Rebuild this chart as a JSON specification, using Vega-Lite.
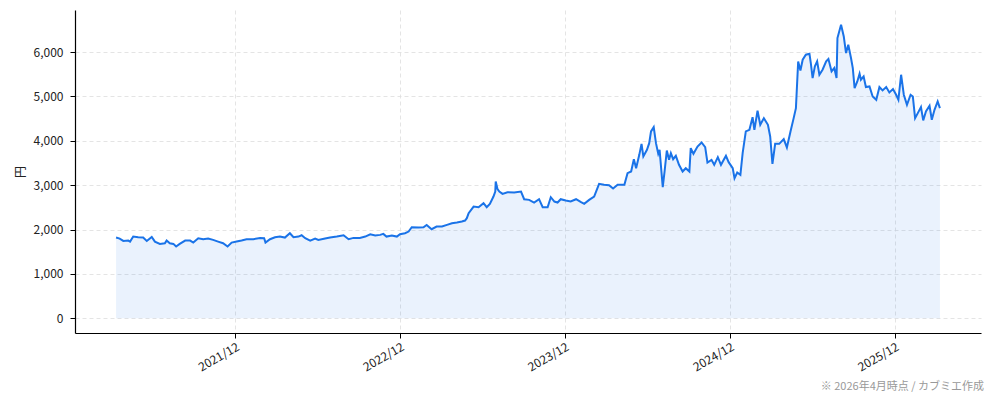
{
  "$schema": "https://vega.github.io/schema/vega-lite/v6.json",
  "width": 906,
  "height": 323,
  "autosize": {"type": "none"},
  "padding": {"left": 75, "top": 10, "right": 13, "bottom": 68},
  "background": "white",
  "config": {
    "view": {"stroke": null},
    "font": "Noto Sans CJK JP",
    "axis": {
      "domainColor": "#000000",
      "domainWidth": 1.2,
      "tickColor": "#000000",
      "tickSize": 5,
      "labelColor": "#222222",
      "labelFontSize": 12,
      "labelFont": "Noto Sans CJK JP",
      "gridColor": "#dddddd",
      "gridDash": [4, 3],
      "gridWidth": 0.8,
      "titleFont": "Noto Sans CJK JP",
      "titleFontWeight": "normal",
      "titleFontSize": 12,
      "titleColor": "#222222"
    }
  },
  "title": {
    "text": "※ 2026年4月時点 / カブミエ作成",
    "orient": "bottom",
    "anchor": "end",
    "fontSize": 11,
    "fontWeight": "normal",
    "color": "#999999",
    "font": "Noto Sans CJK JP",
    "offset": 8,
    "dx": 3
  },
  "data": {
    "values": [
      {"date": "2021-03-12", "price": 1820},
      {"date": "2021-03-20", "price": 1797},
      {"date": "2021-03-28", "price": 1744},
      {"date": "2021-04-08", "price": 1752},
      {"date": "2021-04-12", "price": 1729},
      {"date": "2021-04-19", "price": 1842},
      {"date": "2021-04-30", "price": 1827},
      {"date": "2021-05-11", "price": 1820},
      {"date": "2021-05-19", "price": 1744},
      {"date": "2021-05-30", "price": 1835},
      {"date": "2021-06-06", "price": 1729},
      {"date": "2021-06-17", "price": 1677},
      {"date": "2021-06-28", "price": 1692},
      {"date": "2021-07-02", "price": 1752},
      {"date": "2021-07-09", "price": 1692},
      {"date": "2021-07-17", "price": 1677},
      {"date": "2021-07-23", "price": 1617},
      {"date": "2021-07-31", "price": 1677},
      {"date": "2021-08-12", "price": 1752},
      {"date": "2021-08-23", "price": 1752},
      {"date": "2021-08-30", "price": 1707},
      {"date": "2021-09-10", "price": 1805},
      {"date": "2021-09-21", "price": 1782},
      {"date": "2021-10-02", "price": 1797},
      {"date": "2021-10-13", "price": 1767},
      {"date": "2021-10-24", "price": 1729},
      {"date": "2021-11-04", "price": 1692},
      {"date": "2021-11-14", "price": 1617},
      {"date": "2021-11-23", "price": 1707},
      {"date": "2021-12-04", "price": 1729},
      {"date": "2021-12-15", "price": 1752},
      {"date": "2021-12-26", "price": 1782},
      {"date": "2022-01-10", "price": 1782},
      {"date": "2022-01-25", "price": 1812},
      {"date": "2022-02-03", "price": 1805},
      {"date": "2022-02-06", "price": 1707},
      {"date": "2022-02-16", "price": 1782},
      {"date": "2022-02-27", "price": 1827},
      {"date": "2022-03-10", "price": 1842},
      {"date": "2022-03-21", "price": 1820},
      {"date": "2022-04-01", "price": 1917},
      {"date": "2022-04-09", "price": 1827},
      {"date": "2022-04-20", "price": 1842},
      {"date": "2022-04-27", "price": 1872},
      {"date": "2022-05-05", "price": 1805},
      {"date": "2022-05-16", "price": 1752},
      {"date": "2022-05-27", "price": 1797},
      {"date": "2022-06-03", "price": 1767},
      {"date": "2022-06-18", "price": 1797},
      {"date": "2022-06-29", "price": 1820},
      {"date": "2022-07-14", "price": 1842},
      {"date": "2022-07-29", "price": 1872},
      {"date": "2022-08-09", "price": 1782},
      {"date": "2022-08-20", "price": 1812},
      {"date": "2022-09-03", "price": 1812},
      {"date": "2022-09-15", "price": 1842},
      {"date": "2022-09-26", "price": 1895},
      {"date": "2022-10-07", "price": 1865},
      {"date": "2022-10-18", "price": 1880},
      {"date": "2022-10-25", "price": 1902},
      {"date": "2022-11-01", "price": 1842},
      {"date": "2022-11-13", "price": 1865},
      {"date": "2022-11-24", "price": 1842},
      {"date": "2022-12-01", "price": 1895},
      {"date": "2022-12-12", "price": 1917},
      {"date": "2022-12-20", "price": 1955},
      {"date": "2022-12-27", "price": 2053},
      {"date": "2023-01-11", "price": 2045},
      {"date": "2023-01-22", "price": 2053},
      {"date": "2023-01-29", "price": 2105},
      {"date": "2023-02-09", "price": 2008},
      {"date": "2023-02-20", "price": 2068},
      {"date": "2023-03-04", "price": 2068},
      {"date": "2023-03-15", "price": 2105},
      {"date": "2023-03-26", "price": 2143},
      {"date": "2023-04-06", "price": 2158},
      {"date": "2023-04-17", "price": 2180},
      {"date": "2023-04-24", "price": 2203},
      {"date": "2023-04-28", "price": 2256},
      {"date": "2023-05-02", "price": 2368},
      {"date": "2023-05-13", "price": 2519},
      {"date": "2023-05-24", "price": 2504},
      {"date": "2023-06-04", "price": 2594},
      {"date": "2023-06-11", "price": 2504},
      {"date": "2023-06-18", "price": 2579},
      {"date": "2023-06-26", "price": 2744},
      {"date": "2023-06-30", "price": 2857},
      {"date": "2023-07-01", "price": 3083},
      {"date": "2023-07-05", "price": 2910},
      {"date": "2023-07-09", "price": 2857},
      {"date": "2023-07-16", "price": 2805},
      {"date": "2023-07-27", "price": 2842},
      {"date": "2023-08-11", "price": 2835},
      {"date": "2023-08-26", "price": 2857},
      {"date": "2023-09-02", "price": 2684},
      {"date": "2023-09-13", "price": 2669},
      {"date": "2023-09-24", "price": 2609},
      {"date": "2023-10-05", "price": 2684},
      {"date": "2023-10-13", "price": 2504},
      {"date": "2023-10-24", "price": 2504},
      {"date": "2023-10-31", "price": 2729},
      {"date": "2023-11-08", "price": 2632},
      {"date": "2023-11-15", "price": 2609},
      {"date": "2023-11-22", "price": 2684},
      {"date": "2023-12-03", "price": 2654},
      {"date": "2023-12-14", "price": 2632},
      {"date": "2023-12-26", "price": 2684},
      {"date": "2024-01-06", "price": 2617},
      {"date": "2024-01-13", "price": 2579},
      {"date": "2024-01-24", "price": 2669},
      {"date": "2024-02-04", "price": 2744},
      {"date": "2024-02-15", "price": 3030},
      {"date": "2024-02-26", "price": 3008},
      {"date": "2024-03-08", "price": 3000},
      {"date": "2024-03-17", "price": 2925},
      {"date": "2024-03-27", "price": 3008},
      {"date": "2024-04-11", "price": 3008},
      {"date": "2024-04-18", "price": 3271},
      {"date": "2024-04-26", "price": 3308},
      {"date": "2024-05-02", "price": 3586},
      {"date": "2024-05-07", "price": 3383},
      {"date": "2024-05-14", "price": 3684},
      {"date": "2024-05-19", "price": 3932},
      {"date": "2024-05-23", "price": 3647},
      {"date": "2024-05-31", "price": 3797},
      {"date": "2024-06-05", "price": 3947},
      {"date": "2024-06-09", "price": 4211},
      {"date": "2024-06-15", "price": 4308},
      {"date": "2024-06-20", "price": 3947},
      {"date": "2024-06-25", "price": 3707},
      {"date": "2024-06-28", "price": 3797},
      {"date": "2024-07-05", "price": 2955},
      {"date": "2024-07-09", "price": 3308},
      {"date": "2024-07-14", "price": 3782},
      {"date": "2024-07-19", "price": 3571},
      {"date": "2024-07-23", "price": 3722},
      {"date": "2024-07-28", "price": 3586},
      {"date": "2024-08-03", "price": 3662},
      {"date": "2024-08-10", "price": 3459},
      {"date": "2024-08-18", "price": 3308},
      {"date": "2024-08-25", "price": 3383},
      {"date": "2024-09-02", "price": 3308},
      {"date": "2024-09-05", "price": 3835},
      {"date": "2024-09-11", "price": 3707},
      {"date": "2024-09-20", "price": 3872},
      {"date": "2024-09-29", "price": 3962},
      {"date": "2024-10-07", "price": 3857},
      {"date": "2024-10-12", "price": 3511},
      {"date": "2024-10-21", "price": 3571},
      {"date": "2024-10-27", "price": 3459},
      {"date": "2024-11-04", "price": 3632},
      {"date": "2024-11-11", "price": 3459},
      {"date": "2024-11-22", "price": 3662},
      {"date": "2024-11-28", "price": 3519},
      {"date": "2024-12-07", "price": 3383},
      {"date": "2024-12-11", "price": 3158},
      {"date": "2024-12-17", "price": 3286},
      {"date": "2024-12-24", "price": 3233},
      {"date": "2024-12-29", "price": 3722},
      {"date": "2025-01-05", "price": 4211},
      {"date": "2025-01-13", "price": 4248},
      {"date": "2025-01-20", "price": 4534},
      {"date": "2025-01-24", "price": 4248},
      {"date": "2025-01-31", "price": 4677},
      {"date": "2025-02-06", "price": 4361},
      {"date": "2025-02-14", "price": 4511},
      {"date": "2025-02-23", "price": 4361},
      {"date": "2025-02-28", "price": 4098},
      {"date": "2025-03-05", "price": 3481},
      {"date": "2025-03-11", "price": 3932},
      {"date": "2025-03-20", "price": 3932},
      {"date": "2025-03-30", "price": 4038},
      {"date": "2025-04-06", "price": 3850},
      {"date": "2025-04-14", "price": 4211},
      {"date": "2025-04-21", "price": 4511},
      {"date": "2025-04-26", "price": 4737},
      {"date": "2025-05-01", "price": 5789},
      {"date": "2025-05-06", "price": 5586},
      {"date": "2025-05-11", "price": 5827},
      {"date": "2025-05-18", "price": 5940},
      {"date": "2025-05-26", "price": 5962},
      {"date": "2025-05-29", "price": 5752},
      {"date": "2025-06-02", "price": 5414},
      {"date": "2025-06-07", "price": 5677},
      {"date": "2025-06-12", "price": 5789},
      {"date": "2025-06-17", "price": 5489},
      {"date": "2025-06-24", "price": 5602},
      {"date": "2025-07-02", "price": 5789},
      {"date": "2025-07-07", "price": 5842},
      {"date": "2025-07-14", "price": 5564},
      {"date": "2025-07-20", "price": 5639},
      {"date": "2025-07-25", "price": 5414},
      {"date": "2025-07-27", "price": 6316},
      {"date": "2025-08-04", "price": 6617},
      {"date": "2025-08-10", "price": 6353},
      {"date": "2025-08-15", "price": 5977},
      {"date": "2025-08-20", "price": 6165},
      {"date": "2025-08-26", "price": 5865},
      {"date": "2025-08-30", "price": 5639},
      {"date": "2025-09-03", "price": 5188},
      {"date": "2025-09-09", "price": 5338},
      {"date": "2025-09-14", "price": 5511},
      {"date": "2025-09-17", "price": 5376},
      {"date": "2025-09-23", "price": 5451},
      {"date": "2025-09-28", "price": 5211},
      {"date": "2025-10-06", "price": 5226},
      {"date": "2025-10-13", "price": 5000},
      {"date": "2025-10-21", "price": 4925},
      {"date": "2025-10-28", "price": 5211},
      {"date": "2025-11-04", "price": 5135},
      {"date": "2025-11-12", "price": 5211},
      {"date": "2025-11-19", "price": 5090},
      {"date": "2025-11-27", "price": 5165},
      {"date": "2025-12-04", "price": 5038},
      {"date": "2025-12-09", "price": 4925},
      {"date": "2025-12-15", "price": 5489},
      {"date": "2025-12-21", "price": 5038},
      {"date": "2025-12-28", "price": 4812},
      {"date": "2026-01-05", "price": 5038},
      {"date": "2026-01-10", "price": 5000},
      {"date": "2026-01-15", "price": 4511},
      {"date": "2026-01-21", "price": 4624},
      {"date": "2026-01-28", "price": 4759},
      {"date": "2026-02-02", "price": 4459},
      {"date": "2026-02-08", "price": 4662},
      {"date": "2026-02-16", "price": 4789},
      {"date": "2026-02-21", "price": 4474},
      {"date": "2026-02-27", "price": 4699},
      {"date": "2026-03-06", "price": 4887},
      {"date": "2026-03-11", "price": 4737}
    ]
  },
  "encoding": {
    "x": {
      "field": "date",
      "type": "temporal",
      "scale": {
        "type": "utc",
        "domain": [
          {"year": 2020, "month": 12, "date": 11, "utc": true},
          {"year": 2026, "month": 6, "date": 10, "utc": true}
        ]
      },
      "axis": {
        "title": null,
        "format": "%Y/%m",
        "values": [
          {"year": 2021, "month": 12, "date": 1, "utc": true},
          {"year": 2022, "month": 12, "date": 1, "utc": true},
          {"year": 2023, "month": 12, "date": 1, "utc": true},
          {"year": 2024, "month": 12, "date": 1, "utc": true},
          {"year": 2025, "month": 12, "date": 1, "utc": true}
        ],
        "labelAngle": -30,
        "labelAlign": "right",
        "labelBaseline": "top",
        "labelPadding": 3,
        "grid": true
      }
    }
  },
  "layer": [
    {
      "mark": {"type": "area", "color": "#1a73e8", "opacity": 0.09},
      "encoding": {
        "y": {
          "field": "price",
          "type": "quantitative",
          "scale": {"domain": [-331, 6948], "nice": false, "zero": false},
          "axis": {
            "title": "円",
            "values": [0, 1000, 2000, 3000, 4000, 5000, 6000],
            "format": ",d",
            "grid": true,
            "titlePadding": 6,
            "labelPadding": 7
          }
        },
        "y2": {"datum": 0}
      }
    },
    {
      "mark": {"type": "line", "color": "#1a73e8", "strokeWidth": 2},
      "encoding": {
        "y": {"field": "price", "type": "quantitative"}
      }
    }
  ]
}
